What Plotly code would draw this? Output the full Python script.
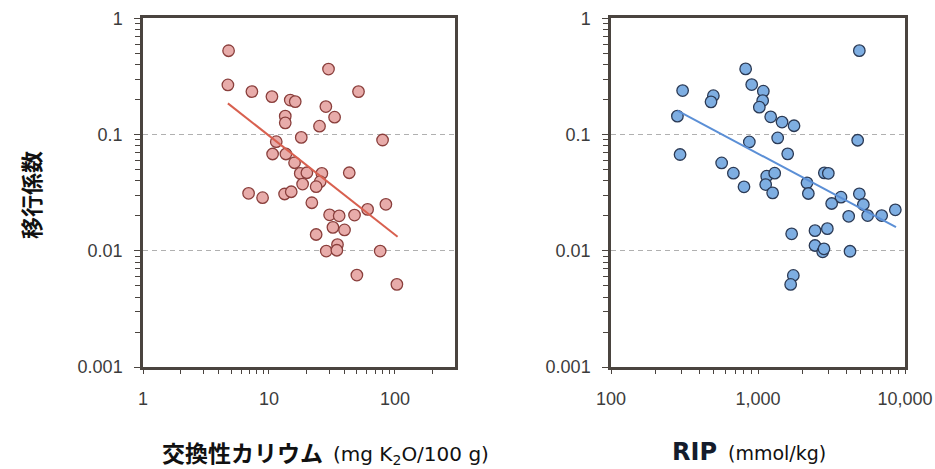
import plotly.graph_objects as go

# ---- data ----
k_x = [4.78, 4.72, 7.32, 10.56, 14.76, 16.17, 29.7, 51.4, 28.3, 33.2, 13.47, 13.47, 25.2, 18.05,
       11.43, 79.8, 10.69, 13.63, 15.97, 17.72, 20.0, 26.3, 25.5, 18.5, 23.7, 43.4, 6.89, 8.90,
       13.31, 15.03, 21.9, 84.8, 60.7, 30.3, 36.1, 47.8, 32.2, 39.8, 23.7, 35.0, 28.5, 34.6,
       76.4, 49.9, 103.7]
k_y = [0.526, 0.267, 0.234, 0.212, 0.198, 0.192, 0.366, 0.234, 0.174, 0.141, 0.144, 0.126, 0.118,
       0.0945, 0.0868, 0.0897, 0.068, 0.068, 0.0572, 0.0463, 0.0469, 0.0463, 0.0393, 0.0375,
       0.0356, 0.0469, 0.0312, 0.0286, 0.0308, 0.0322, 0.0259, 0.0251, 0.0227, 0.0204, 0.0200,
       0.0203, 0.0159, 0.0151, 0.0138, 0.0113, 0.00994, 0.0101, 0.00994, 0.00618, 0.00514]
k_trend_x = [4.72, 105]
k_trend_y = [0.1855, 0.0132]

rip_x = [4890, 824, 906, 307, 497, 479, 1087, 1076, 1021, 283, 1220, 1457, 1758, 1361, 873, 4764,
         295, 1592, 566, 680, 1146, 1299, 1128, 1258, 803, 2154, 2200, 2827, 3009, 3669, 4890,
         3170, 5208, 4139, 5572, 6939, 8595, 1694, 2442, 2963, 2442, 2754, 2812, 4226, 1739, 1668]
rip_y = [0.527, 0.367, 0.269, 0.239, 0.216, 0.191, 0.236, 0.196, 0.172, 0.144, 0.142, 0.128, 0.119,
         0.0935, 0.0864, 0.0893, 0.0673, 0.0682, 0.057, 0.0465, 0.0438, 0.0465, 0.0371, 0.0315,
         0.0355, 0.0384, 0.0311, 0.0468, 0.0464, 0.0289, 0.0309, 0.0255, 0.025, 0.0198, 0.0201,
         0.0201, 0.0225, 0.014, 0.0149, 0.0155, 0.0111, 0.0098, 0.0104, 0.0099, 0.00613, 0.00513]
rip_trend_x = [283, 8685]
rip_trend_y = [0.1608, 0.01595]

y_tickvals = [0.001, 0.01, 0.1, 1]
y_ticktext = ["0.001", "0.01", "0.1", "1"]
k_tickvals = [1, 10, 100]
k_ticktext = ["1", "10", "100"]
rip_tickvals = [100, 1000, 10000]
rip_ticktext = ["100", "1,000", "10,000"]

W, H = 935, 469
FRAME = "#4a443f"
TICKFONT = dict(family="Liberation Sans, Arial", size=18, color="#3c3c3c")


def minor_vals(lo_exp, hi_exp, upper):
    vals = []
    for e in range(lo_exp, hi_exp):
        for d in range(2, 10):
            v = d * 10 ** e
            if v < upper:
                vals.append(v)
    return vals


fig = go.Figure()

fig.add_trace(go.Scatter(x=k_x, y=k_y, mode="markers", xaxis="x", yaxis="y",
                         marker=dict(size=11.5, color="#e8acaa",
                                     line=dict(color="#8a3f3c", width=1.3)),
                         showlegend=False))
fig.add_trace(go.Scatter(x=k_trend_x, y=k_trend_y, mode="lines", xaxis="x", yaxis="y",
                         line=dict(color="#d8604f", width=2), showlegend=False))

fig.add_trace(go.Scatter(x=rip_x, y=rip_y, mode="markers", xaxis="x2", yaxis="y2",
                         marker=dict(size=11.5, color="#7eaee2",
                                     line=dict(color="#2b3a55", width=1.3)),
                         showlegend=False))
fig.add_trace(go.Scatter(x=rip_trend_x, y=rip_trend_y, mode="lines", xaxis="x2", yaxis="y2",
                         line=dict(color="#5b8fd6", width=2), showlegend=False))

ydom = [1 - 367 / H, 1 - 18.3 / H]

yaxis_common = dict(type="log", range=[-3, 0], domain=ydom,
                    tickmode="array", tickvals=y_tickvals, ticktext=y_ticktext,
                    ticks="outside", ticklen=6, tickwidth=1.2, tickcolor=FRAME,
                    ticklabelstandoff=8,
                    showgrid=True, gridcolor="#b0b0b0", griddash="5px,4px", gridwidth=1.3,
                    showline=True, mirror=True, linecolor=FRAME, linewidth=2.5,
                    zeroline=False, tickfont=TICKFONT,
                    minor=dict(tickmode="array", tickvals=minor_vals(-3, 0, 1),
                               ticks="outside", ticklen=5, tickcolor=FRAME, showgrid=False))

fig.update_layout(
    width=W, height=H,
    margin=dict(l=0, r=0, t=0, b=0, autoexpand=False),
    paper_bgcolor="white", plot_bgcolor="white",
    xaxis=dict(type="log", range=[0, 2.4771], domain=[143 / W, 455 / W], anchor="y",
               tickmode="array", tickvals=k_tickvals, ticktext=k_ticktext,
               ticks="outside", ticklen=4, tickwidth=1.2, tickcolor=FRAME,
               ticklabelstandoff=10,
               showgrid=False, showline=True, mirror=True, linecolor=FRAME, linewidth=2.5,
               zeroline=False, tickfont=TICKFONT,
               minor=dict(tickmode="array", tickvals=minor_vals(0, 3, 300),
                          ticks="outside", ticklen=4, tickcolor=FRAME, showgrid=False)),
    yaxis=dict(anchor="x", **yaxis_common),
    xaxis2=dict(type="log", range=[2, 4], domain=[611 / W, 905 / W], anchor="y2",
                tickmode="array", tickvals=rip_tickvals, ticktext=rip_ticktext,
                ticks="outside", ticklen=4, tickwidth=1.2, tickcolor=FRAME,
                ticklabelstandoff=10,
                showgrid=False, showline=True, mirror=True, linecolor=FRAME, linewidth=2.5,
                zeroline=False, tickfont=TICKFONT,
                minor=dict(tickmode="array", tickvals=minor_vals(2, 4, 10000),
                           ticks="outside", ticklen=4, tickcolor=FRAME, showgrid=False)),
    yaxis2=dict(anchor="x2", **yaxis_common),
)

# axis titles as annotations
fig.add_annotation(text="<b>移行係数</b>", x=30 / W, y=1 - 195 / H, xref="paper", yref="paper",
                   textangle=-90, showarrow=False, xanchor="center", yanchor="middle",
                   font=dict(family="Noto Sans CJK JP", size=22, color="#111111"))
fig.add_annotation(text="<b>交換性カリウム</b>", x=161 / W, y=1 - 452 / H, xref="paper", yref="paper",
                   showarrow=False, xanchor="left", yanchor="middle", borderpad=0,
                   font=dict(family="Noto Sans CJK JP", size=23, color="#111111"))
fig.add_annotation(text="(mg K<sub>2</sub>O/100 g)", x=332 / W, y=1 - 455 / H,
                   xref="paper", yref="paper", showarrow=False, xanchor="left", yanchor="middle",
                   borderpad=0,
                   font=dict(family="DejaVu Sans", size=20, color="#111111"))
fig.add_annotation(text="<b>RIP</b>", x=671 / W, y=1 - 452 / H, xref="paper", yref="paper",
                   showarrow=False, xanchor="left", yanchor="middle", borderpad=0,
                   font=dict(family="DejaVu Sans", size=24, color="#141c2c"))
fig.add_annotation(text="(mmol/kg)", x=727 / W, y=1 - 453 / H, xref="paper", yref="paper",
                   showarrow=False, xanchor="left", yanchor="middle", borderpad=0,
                   font=dict(family="DejaVu Sans", size=19, color="#111111"))

fig.write_html("out.html", config={"displayModeBar": False},
               post_script="document.body.style.margin='0';document.body.style.overflow='hidden';")
